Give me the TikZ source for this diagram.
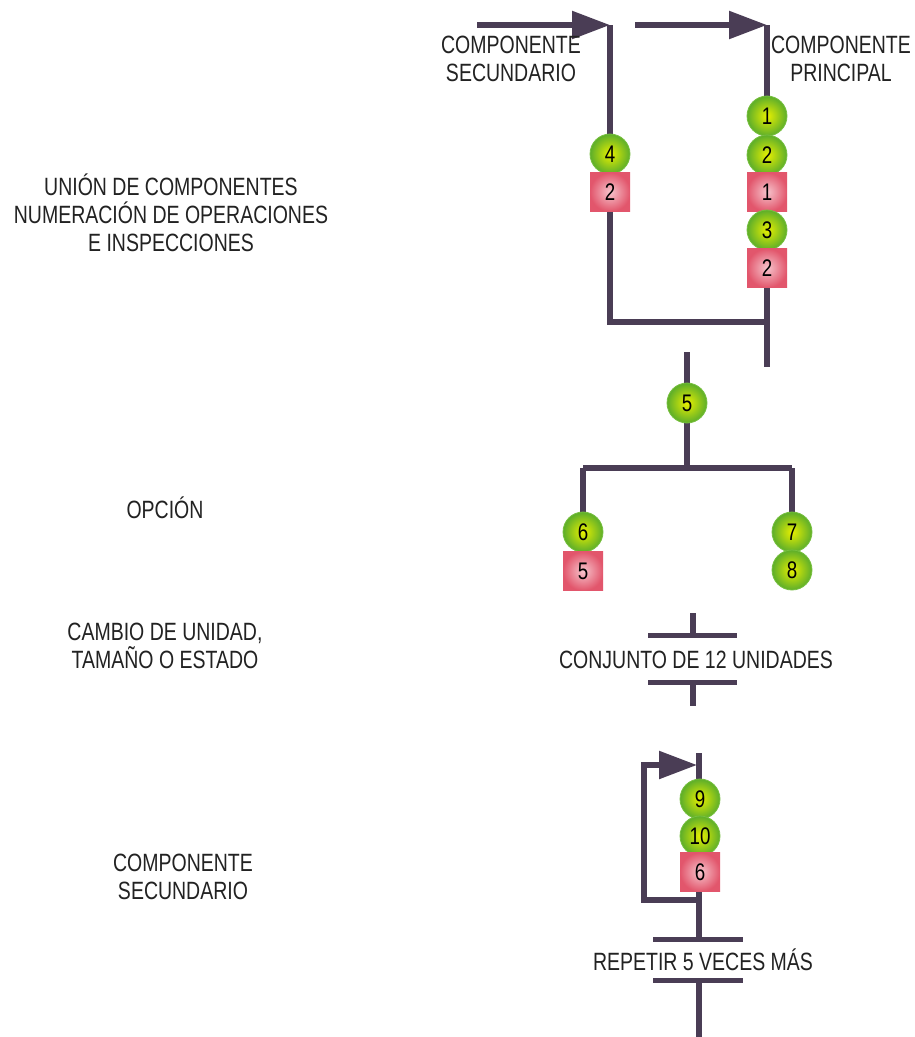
\documentclass[tikz,border=0pt]{standalone}
\usepackage{fontspec}
\setmainfont{Liberation Sans}[FakeStretch=0.78]
\usetikzlibrary{arrows.meta}
\definecolor{flowline}{HTML}{4A3D55}
\definecolor{opgreen}{HTML}{5DAE2A}
\definecolor{opcore}{HTML}{E8F000}
\definecolor{opedge}{HTML}{78C040}
\definecolor{inspred}{HTML}{E2566C}
\definecolor{inspcore}{HTML}{F6C4CC}
\definecolor{txt}{HTML}{222222}
\begin{document}
\begin{tikzpicture}[x=1pt,y=-1pt,
  flow/.style={line width=5.5pt,draw=flowline},
  flowarrow/.style={flow,-{Triangle[length=38pt,width=27pt]}},
  opcirc/.style={circle,minimum size=40pt,inner sep=0pt,
    inner color=opcore,outer color=opgreen,draw=opedge,line width=0.8pt,
    font=\fontsize{24}{24}\selectfont,text=black},
  inspbox/.style={rectangle,minimum width=40pt,minimum height=39pt,inner sep=0pt,
    inner color=inspcore,outer color=inspred,
    font=\fontsize{24}{24}\selectfont,text=black},
  lbl/.style={align=center,text=txt,inner sep=0pt,
    font=\fontsize{25}{28}\selectfont},
  bar/.style={flow,line width=5pt}]
\useasboundingbox (0,0) rectangle (914,1037);
\fill[white] (0,0) rectangle (914,1037);

% --- assembly of components -------------------------------------------
\coordinate (secin) at (477,25);
\coordinate (sectop) at (610,25);
\coordinate (prinin) at (635,25);
\coordinate (printop) at (767,25);
\coordinate (secjoin) at (610,322);
\coordinate (prinjoin) at (767,322);
\coordinate (prinend) at (767,367);

\draw[flowarrow] (secin) -- (sectop);
\draw[flowarrow] (prinin) -- (printop);
\draw[flow] (sectop) -- (secjoin) -- (prinjoin);
\draw[flow] (printop) -- (prinend);

\node[opcirc]  (o4)  at (610,154) {4};
\node[inspbox] (i2a) at (610,192) {2};

\node[opcirc]  (o1)  at (767,116) {1};
\node[opcirc]  (o2)  at (767,155) {2};
\node[inspbox] (i1)  at (767,192) {1};
\node[opcirc]  (o3)  at (767,230) {3};
\node[inspbox] (i2b) at (767,268) {2};

\node[lbl] (lsec)  at (511,59) {COMPONENTE\\SECUNDARIO};
\node[lbl] (lprin) at (841,59) {COMPONENTE\\PRINCIPAL};

% --- option ------------------------------------------------------------
\coordinate (opttop) at (687,352);
\coordinate (optsplit) at (687,468);
\coordinate (optl) at (583,468);
\coordinate (optr) at (792,468);
\draw[flow] (opttop) -- (optsplit);
\draw[flow] (optl) -- (optr);
\draw[flow] (optl) -- (583,515);
\draw[flow] (optr) -- (792,515);

\node[opcirc]  (o5) at (687,403) {5};
\node[opcirc]  (o6) at (583,532) {6};
\node[inspbox] (i5) at (583,571) {5};
\node[opcirc]  (o7) at (792,532) {7};
\node[opcirc]  (o8) at (792,570) {8};

% --- change of unit ----------------------------------------------------
\coordinate (cjtop) at (693,613);
\coordinate (cjbarA) at (693,635);
\coordinate (cjbarB) at (693,682);
\coordinate (cjbot) at (693,706);
\draw[flow] (cjtop) -- (cjbarA);
\draw[bar] (648,635) -- (737,635);
\node[lbl] (lcj) at (696,660) {CONJUNTO DE 12 UNIDADES};
\draw[bar] (648,682) -- (737,682);
\draw[flow] (cjbarB) -- (cjbot);

% --- repeated sub-assembly ---------------------------------------------
\coordinate (rtop) at (699,753);
\coordinate (rbarA) at (699,939);
\coordinate (rbarB) at (699,980);
\coordinate (rbot) at (699,1037);
\coordinate (loopout) at (699,900);
\coordinate (loopdl) at (644,900);
\coordinate (loopul) at (644,765);
\coordinate (loopin) at (697,765);
\draw[flow] (rtop) -- (rbarA);
\draw[flowarrow] (loopout) -- (loopdl) -- (loopul) -- (loopin);
\draw[bar] (653,939) -- (743,939);
\node[lbl] (lrep) at (703,960) {REPETIR 5 VECES MÁS};
\draw[bar] (653,980) -- (743,980);
\draw[flow] (rbarB) -- (rbot);

\node[opcirc]  (o9)  at (700,799) {9};
\node[opcirc]  (o10) at (700,836) {10};
\node[inspbox] (i6)  at (700,872) {6};

% --- side captions -----------------------------------------------------
\node[lbl] (cap1) at (171,213) {UNIÓN DE COMPONENTES\\NUMERACIÓN DE OPERACIONES\\E INSPECCIONES};
\node[lbl] (cap2) at (165,508) {OPCIÓN};
\node[lbl] (cap3) at (165,646) {CAMBIO DE UNIDAD,\\TAMAÑO O ESTADO};
\node[lbl] (cap4) at (183,877) {COMPONENTE\\SECUNDARIO};
\end{tikzpicture}
\end{document}
